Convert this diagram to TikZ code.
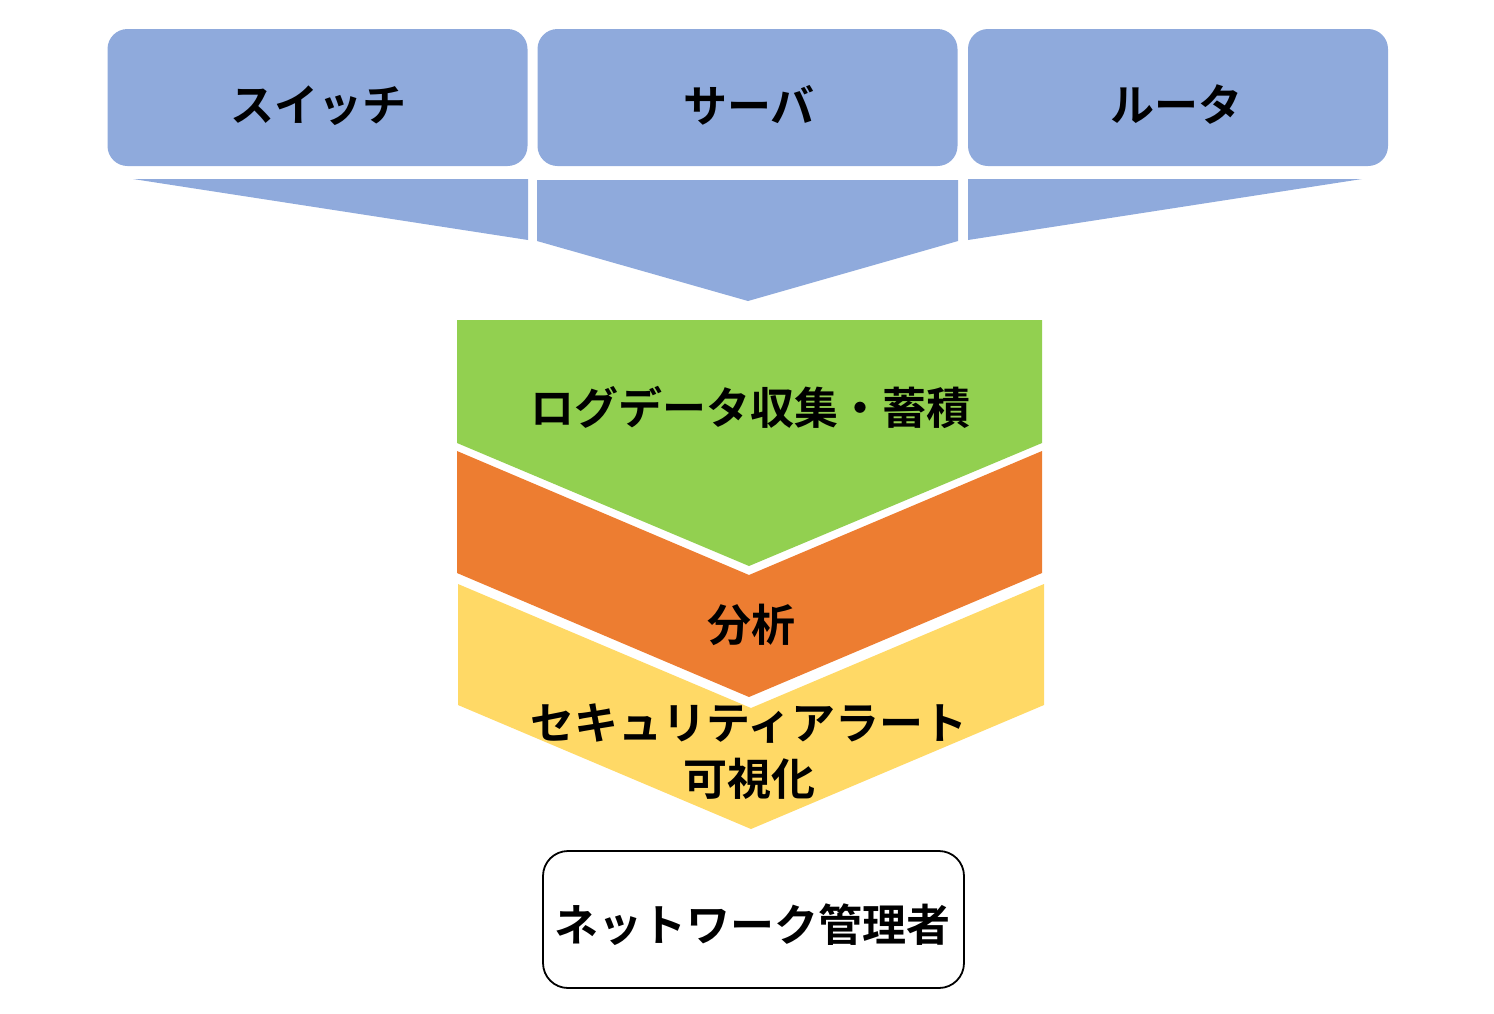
\documentclass[tikz,border=0pt]{standalone}
\usepackage{fontspec}
\setmainfont{Noto Sans CJK JP}[BoldFont={Noto Sans CJK JP Bold}]
\definecolor{topblue}{HTML}{8FAADC}
\definecolor{stgreen}{HTML}{92D050}
\definecolor{storange}{HTML}{ED7D31}
\definecolor{styellow}{HTML}{FFD966}
\tikzset{
  topbox/.style={fill=topblue, draw=none, rounded corners=20pt, minimum width=420pt, minimum height=137pt, inner sep=0pt},
  lbl/.style={font=\fontsize{44}{56}\selectfont\bfseries, inner sep=0pt, align=center, text=black},
}
\begin{document}
\begin{tikzpicture}[x=1pt,y=-1pt]
\useasboundingbox (0,0) rectangle (1494,1013);
% top boxes
\node[topbox] (b1) at (317.5,97.5) {};
\node[topbox] (b2) at (747.5,97.5) {};
\node[topbox] (b3) at (1178,97.5) {};
\node[lbl] (t1) at (318,106) {スイッチ};
\node[lbl] (t2) at (749,105) {サーバ};
\node[lbl] (t3) at (1176,105) {ルータ};
% funnel
\fill[topblue] (133,179) -- (528,179) -- (528,240) -- cycle;
\fill[topblue] (537,180) -- (958,180) -- (958,241) -- (748,301) -- (537,241) -- cycle;
\fill[topblue] (968,179) -- (1362,179) -- (968,240) -- cycle;
% chevrons
\fill[styellow] (458,584) -- (751,708) -- (1044,584) -- (1044,705) -- (751,829) -- (458,705) -- cycle;
\fill[storange] (457,451) -- (749,575) -- (1042,451) -- (1042,573) -- (749,697) -- (457,573) -- cycle;
\fill[stgreen] (457,320) -- (1042,320) -- (1042,443) -- (749,566) -- (457,443) -- cycle;
\node[lbl] (s1) at (750,407) {ログデータ収集・蓄積};
\node[lbl] (s2) at (751,625) {分析};
\node[lbl] (s3) at (749,752) {セキュリティアラート\\可視化};
% admin
\node[draw=black, line width=1.8pt, rounded corners=25pt, minimum width=421pt, minimum height=137pt, inner sep=0pt] (adm) at (753.5,919.5) {};
\node[lbl] (admt) at (752,925) {ネットワーク管理者};
\end{tikzpicture}
\end{document}
